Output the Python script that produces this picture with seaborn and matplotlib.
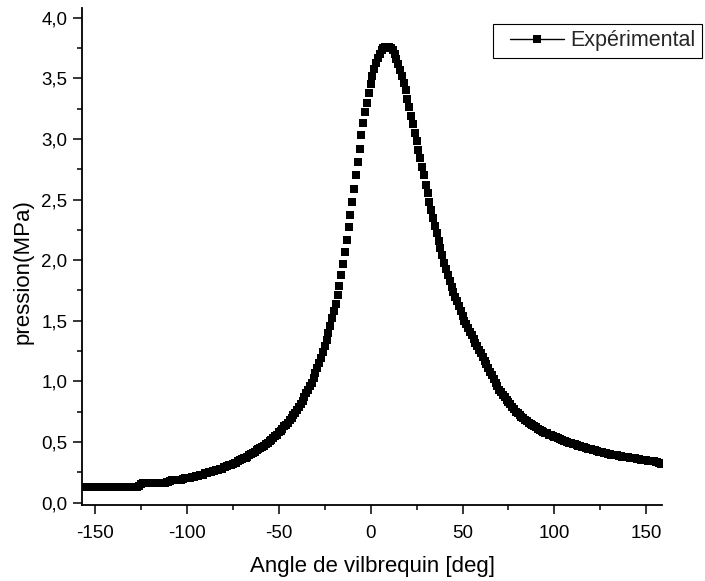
import numpy as np
import pandas as pd
import matplotlib
matplotlib.use("Agg")
import matplotlib.pyplot as plt
import seaborn as sns
from matplotlib.ticker import MultipleLocator
from matplotlib.legend_handler import HandlerLine2D
from matplotlib.lines import Line2D

# ---- data ----
angles = list(range(-157, 159))  # crank angle sampling, 1 deg step
pressure = [
    0.13, 0.13, 0.13, 0.13, 0.13, 0.13, 0.13, 0.13, 0.13, 0.13,      # -157..-148
    0.13, 0.13, 0.13, 0.13, 0.13, 0.13, 0.13, 0.13, 0.13, 0.13,      # -147..-138
    0.13, 0.13, 0.13, 0.13, 0.13, 0.13, 0.13, 0.13, 0.13, 0.13,      # -137..-128
    0.13, 0.14, 0.155, 0.16, 0.16, 0.16, 0.16, 0.16, 0.16, 0.16,     # -127..-118
    0.16, 0.16, 0.16, 0.165, 0.165, 0.165, 0.17, 0.17, 0.18, 0.19,   # -117..-108
    0.19, 0.19, 0.19, 0.19, 0.19, 0.195, 0.20, 0.20, 0.20, 0.205,    # -107..-98
    0.21, 0.21, 0.22, 0.22, 0.225, 0.23, 0.23, 0.24, 0.24, 0.25,     # -97..-88
    0.25, 0.26, 0.26, 0.265, 0.27, 0.28, 0.28, 0.29, 0.29, 0.30,     # -87..-78
    0.31, 0.31, 0.32, 0.33, 0.33, 0.34, 0.35, 0.36, 0.37, 0.37,      # -77..-68
    0.38, 0.39, 0.40, 0.41, 0.42, 0.43, 0.44, 0.45, 0.46, 0.47,      # -67..-58
    0.48, 0.49, 0.51, 0.52, 0.53, 0.55, 0.56, 0.58, 0.59, 0.61,      # -57..-48
    0.63, 0.64, 0.66, 0.68, 0.70, 0.72, 0.74, 0.76, 0.79, 0.81,      # -47..-38
    0.84, 0.87, 0.90, 0.93, 0.96, 0.99, 1.03, 1.07, 1.11, 1.15,      # -37..-28
    1.19, 1.24, 1.29, 1.34, 1.40, 1.46, 1.52, 1.58, 1.64, 1.71,      # -27..-18
    1.79, 1.88, 1.97, 2.07, 2.17, 2.27, 2.37, 2.48, 2.59, 2.70,      # -17..-8
    2.81, 2.92, 3.03, 3.13, 3.22, 3.30, 3.38, 3.45, 3.52, 3.58,      # -7..2
    3.63, 3.67, 3.70, 3.73, 3.75, 3.76, 3.76, 3.76, 3.75, 3.73,      # 3..12
    3.70, 3.66, 3.62, 3.57, 3.52, 3.46, 3.40, 3.33, 3.26, 3.19,      # 13..22
    3.12, 3.05, 2.98, 2.91, 2.84, 2.77, 2.70, 2.62, 2.55, 2.48,      # 23..32
    2.41, 2.35, 2.28, 2.22, 2.16, 2.10, 2.04, 1.98, 1.93, 1.88,      # 33..42
    1.83, 1.78, 1.74, 1.70, 1.66, 1.62, 1.58, 1.54, 1.50, 1.47,      # 43..52
    1.44, 1.41, 1.38, 1.35, 1.32, 1.29, 1.26, 1.23, 1.20, 1.17,      # 53..62
    1.14, 1.11, 1.08, 1.05, 1.02, 0.99, 0.96, 0.93, 0.91, 0.89,      # 63..72
    0.87, 0.85, 0.83, 0.81, 0.79, 0.77, 0.75, 0.74, 0.72, 0.71,      # 73..82
    0.70, 0.68, 0.67, 0.66, 0.65, 0.64, 0.63, 0.62, 0.61, 0.60,      # 83..92
    0.59, 0.58, 0.575, 0.57, 0.56, 0.555, 0.55, 0.545, 0.54, 0.53,   # 93..102
    0.525, 0.52, 0.51, 0.505, 0.50, 0.495, 0.49, 0.485, 0.48, 0.475, # 103..112
    0.47, 0.465, 0.46, 0.455, 0.45, 0.445, 0.44, 0.44, 0.435, 0.43,  # 113..122
    0.425, 0.42, 0.42, 0.415, 0.41, 0.405, 0.40, 0.40, 0.395, 0.39,  # 123..132
    0.39, 0.39, 0.385, 0.385, 0.38, 0.38, 0.375, 0.375, 0.37, 0.37,  # 133..142
    0.37, 0.365, 0.36, 0.36, 0.355, 0.355, 0.35, 0.35, 0.345, 0.345, # 143..152
    0.34, 0.34, 0.335, 0.335, 0.33, 0.32,                            # 153..158
]
assert len(angles) == len(pressure)

series_label = "Expérimental"
x_label = "Angle de vilbrequin [deg]"
y_label = "pression(MPa)"
xtick_values = [-150, -100, -50, 0, 50, 100, 150]
xtick_labels = ["-150", "-100", "-50", "0", "50", "100", "150"]
ytick_values = [0.0, 0.5, 1.0, 1.5, 2.0, 2.5, 3.0, 3.5, 4.0]
ytick_labels = ["0,0", "0,5", "1,0", "1,5", "2,0", "2,5", "3,0", "3,5", "4,0"]

df = pd.DataFrame({"angle": angles, "pression": pressure})


class InsetLineHandler(HandlerLine2D):
    """Line handle that leaves an empty gap on its left side."""
    def __init__(self, gap_pts=7.5, **kw):
        super().__init__(**kw)
        self.gap = gap_pts

    def get_xdata(self, legend, xdescent, ydescent, width, height, fontsize):
        x0 = -xdescent + self.gap
        x1 = -xdescent + width
        return [x0, x1], [0.5 * (x0 + x1)]


# ---- style ----
sns.set_theme(style="ticks")
plt.rcParams["font.family"] = ["Liberation Sans", "DejaVu Sans"]

fig = plt.figure(figsize=(7.05, 5.81), dpi=100)
ax = fig.add_axes([82 / 705, 1 - 505 / 581, 580 / 705, 497 / 581])

MS = 6.4
sns.scatterplot(data=df, x="angle", y="pression", ax=ax, color="black",
                marker="s", s=MS ** 2, linewidth=0, legend=False)

ax.set_xlim(-157, 158.5)
ax.set_ylim(-0.02, 4.08)
ax.set_xticks(xtick_values)
ax.set_xticklabels(xtick_labels)
ax.set_yticks(ytick_values)
ax.set_yticklabels(ytick_labels)
ax.xaxis.set_minor_locator(MultipleLocator(25))
ax.yaxis.set_minor_locator(MultipleLocator(0.25))

ax.tick_params(axis="both", which="major", direction="out", length=6.5,
               width=1.1, labelsize=13.5, colors="black")
ax.tick_params(axis="x", which="major", pad=8)
ax.tick_params(axis="y", which="major", pad=4)
ax.tick_params(axis="both", which="minor", direction="out", length=3.5,
               width=1.1, colors="black")

for side in ["top", "right"]:
    ax.spines[side].set_visible(False)
for side in ["left", "bottom"]:
    ax.spines[side].set_linewidth(1.3)
    ax.spines[side].set_color("black")

ax.set_xlabel(x_label, fontsize=16, color="black", labelpad=10)
ax.set_ylabel(y_label, fontsize=16, color="black")
ax.yaxis.set_label_coords(-0.083, 0.47)

proxy = Line2D([], [], color="black", linewidth=1.0, marker="s",
               markersize=MS, markeredgewidth=0)
leg = ax.legend([proxy], [series_label], loc="upper left",
                bbox_to_anchor=(0.709, 0.968),
                frameon=True, fancybox=False, fontsize=15.5,
                handlelength=3.0, handletextpad=0.3, borderpad=0.3,
                borderaxespad=0.0,
                handler_map={proxy: InsetLineHandler(gap_pts=7.5)})
leg.get_frame().set_edgecolor("black")
leg.get_frame().set_linewidth(0.8)
leg.get_frame().set_alpha(1)

fig.savefig("out.png", dpi=100)
